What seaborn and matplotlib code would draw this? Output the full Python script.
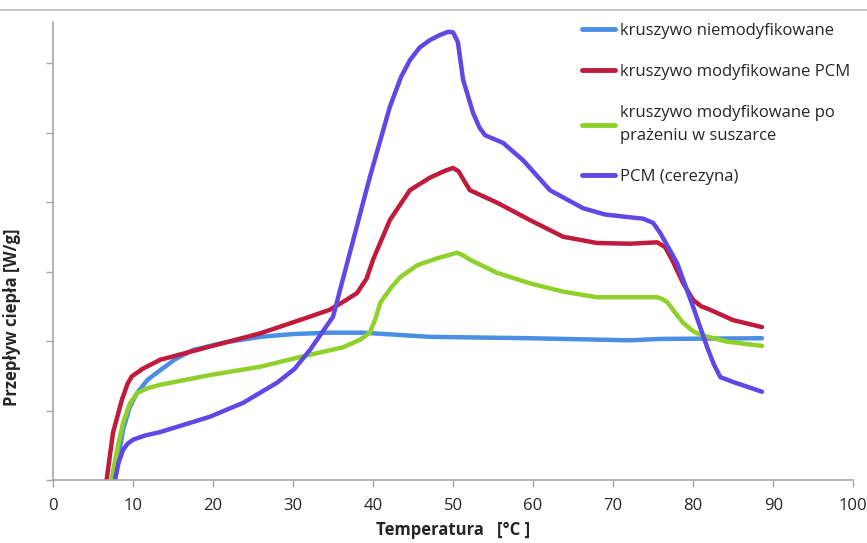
import pandas as pd
import seaborn as sns
from matplotlib import pyplot as plt

# values (y in axis-tick units, axis has no labels)
blue_x = [7.75, 8.75, 9.6, 10.5, 11.8, 13.4, 15.3, 17.5, 21.5, 25.9, 30.0, 34.6, 38.75, 47.1,
          59.6, 72.1, 75.9, 88.6]
blue_y = [0.0, 0.72, 1.05, 1.25, 1.44, 1.58, 1.74, 1.87, 1.98, 2.06, 2.10, 2.12, 2.12, 2.06,
          2.04, 2.01, 2.03, 2.04]

red_x = [6.7, 7.5, 8.6, 9.3, 9.84, 11.2, 13.4, 19.6, 25.9, 32.1, 34.6, 36.5, 38.0, 39.2,
         40.0, 42.1, 44.6, 47.1, 49.0, 50.0, 50.7, 51.4, 52.1, 55.5, 59.6, 63.75, 68.0, 72.1,
         75.5, 76.5, 77.4, 78.75, 80.0, 81.0, 82.1, 85.0, 88.6]
red_y = [0.0, 0.68, 1.15, 1.38, 1.49, 1.60, 1.73, 1.92, 2.11, 2.35, 2.45, 2.58, 2.69, 2.90,
         3.17, 3.74, 4.17, 4.35, 4.45, 4.49, 4.44, 4.30, 4.17, 3.99, 3.74, 3.50, 3.41, 3.40,
         3.42, 3.35, 3.16, 2.83, 2.59, 2.50, 2.45, 2.30, 2.20]

green_x = [7.3, 8.1, 8.75, 9.6, 10.5, 11.8, 13.4, 19.6, 25.9, 30.9, 36.25, 38.4, 39.6, 40.3,
           40.9, 42.2, 43.4, 45.5, 48.0, 50.5, 51.3, 52.1, 55.5, 59.6, 63.75, 68.0, 75.5,
           76.2, 76.75, 77.8, 78.75, 80.0, 80.9, 84.25, 88.6]
green_y = [0.0, 0.48, 0.82, 1.10, 1.25, 1.32, 1.37, 1.51, 1.63, 1.77, 1.91, 2.02, 2.12, 2.32,
           2.55, 2.76, 2.92, 3.09, 3.19, 3.27, 3.23, 3.17, 2.98, 2.83, 2.71, 2.63, 2.63,
           2.60, 2.56, 2.40, 2.26, 2.14, 2.09, 1.99, 1.93]

purple_x = [7.75, 8.2, 8.75, 9.3, 10.0, 11.5, 13.4, 19.6, 23.75, 28.0, 30.2, 32.1, 35.0,
            37.1, 39.6, 42.1, 43.5, 44.6, 45.8, 47.1, 48.3, 49.4, 50.0, 50.6, 51.25, 52.5,
            53.3, 54.0, 56.25, 58.75, 62.1, 66.25, 69.0, 72.1, 73.75, 75.0, 75.9, 78.0,
            80.0, 81.75, 82.6, 83.4, 85.0, 88.6]
purple_y = [0.0, 0.25, 0.43, 0.52, 0.58, 0.64, 0.69, 0.91, 1.11, 1.40, 1.60, 1.87, 2.35,
            3.27, 4.36, 5.37, 5.80, 6.04, 6.22, 6.33, 6.40, 6.45, 6.44, 6.30, 5.76, 5.28,
            5.07, 4.96, 4.85, 4.60, 4.17, 3.91, 3.82, 3.78, 3.76, 3.70, 3.55, 3.12,
            2.49, 1.91, 1.66, 1.48, 1.41, 1.27]

labels = ["kruszywo niemodyfikowane",
          "kruszywo modyfikowane PCM",
          "kruszywo modyfikowane po\nprażeniu w suszarce",
          "PCM (cerezyna)"]
colors = ["#4a8fe3", "#c01a3c", "#8fd12a", "#5f48e6"]

series = [(blue_x, blue_y), (red_x, red_y), (green_x, green_y), (purple_x, purple_y)]
df = pd.concat(
    [pd.DataFrame({"x": xs, "y": ys, "seria": lab})
     for (xs, ys), lab in zip(series, labels)],
    ignore_index=True,
)

sns.set_style("white")
plt.rcParams["font.family"] = ["Open Sans", "DejaVu Sans"]

fig = plt.figure(figsize=(8.67, 5.43), dpi=100)
ax = fig.add_axes([0.0611, 0.116, 0.923, 0.8435])

sns.lineplot(
    data=df, x="x", y="y", hue="seria", hue_order=labels,
    palette=dict(zip(labels, colors)), sort=False, estimator=None,
    linewidth=3.2, ax=ax,
)
for line in ax.lines:
    line.set_solid_joinstyle("round")
    line.set_solid_capstyle("round")

ax.set_xlim(0, 100)
ax.set_ylim(0, 6.59)
ax.set_xticks(range(0, 101, 10))
ax.set_yticks(range(0, 7))
ax.set_yticklabels([])
ax.tick_params(axis="both", direction="out", length=5, width=1, color="#a6a6a6",
               labelsize=12, pad=8, left=True, bottom=True)

for side in ["top", "right"]:
    ax.spines[side].set_visible(False)
for side in ["left", "bottom"]:
    ax.spines[side].set_color("#a6a6a6")
    ax.spines[side].set_linewidth(1.2)

ax.set_xlabel("Temperatura   [°C ]", fontsize=12, fontweight="bold", labelpad=5)
ax.set_ylabel("Przepływ ciepła [W/g]", fontsize=12, fontweight="bold")
ax.yaxis.set_label_coords(-0.04, 0.356)

leg = ax.legend(
    loc="upper left", bbox_to_anchor=(0.642, 1.03), frameon=False, fontsize=12,
    handlelength=2.0, handletextpad=0.3, labelspacing=1.5,
)
for h in leg.legend_handles:
    h.set_linewidth(3.5)
for t in leg.get_texts():
    t.set_linespacing(1.55)

# thin gray border line at the top of the picture
fig.add_artist(plt.Line2D([0, 1], [0.982, 0.982], color="#c8c8c8", lw=1.5,
                          transform=fig.transFigure))

plt.savefig("out.png", dpi=100)
